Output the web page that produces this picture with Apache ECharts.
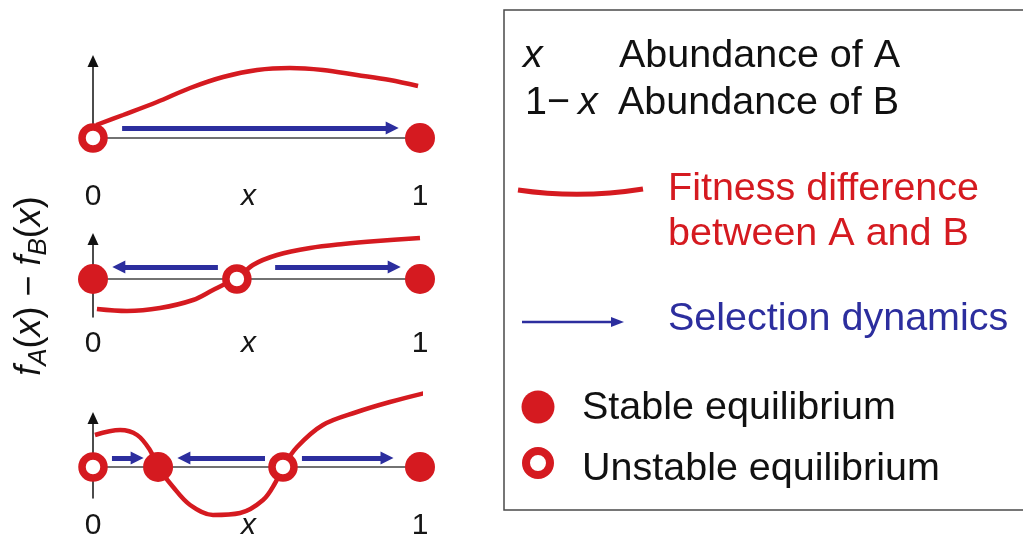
<!DOCTYPE html>
<html><head><meta charset="utf-8">
<script src="https://cdn.jsdelivr.net/npm/echarts@6/dist/echarts.min.js"></script>
<style>html,body{margin:0;padding:0;background:#fff}#c{width:1023px;height:541px}</style>
</head><body><div id="c"></div>
<script>
// ---- data ----
const xTickValues = [0, 0.5, 1];
const xTickLabels = ['0', 'x', '1'];

const curve1 = [[0.01,1.3],[0.092,2.3],[0.196,3.6],[0.297,5.0],[0.398,6.1],[0.502,6.8],[0.602,7.0],[0.703,6.8],[0.807,6.3],[0.908,5.8],[0.994,5.2]];
const stable1 = [[1,0]];
const unstable1 = [[0,0]];
const arrows1 = [[[0.089,1.0],[0.915,1.0]]];

const curve2 = [[0.012,-3.0],[0.104,-3.2],[0.205,-2.9],[0.306,-2.1],[0.367,-1.1],[0.41,-0.4],[0.44,0],[0.489,1.4],[0.563,2.4],[0.664,3.1],[0.765,3.5],[0.869,3.8],[1.0,4.1]];
const stable2 = [[0,0],[1,0]];
const unstable2 = [[0.44,0]];
const arrows2 = [[[0.382,1.2],[0.079,1.2]], [[0.557,1.2],[0.921,1.2]]];

const curve3 = [[0.006,3.2],[0.083,3.7],[0.135,3.2],[0.174,1.7],[0.199,0],[0.245,-2.0],[0.297,-3.8],[0.367,-4.8],[0.45,-4.6],[0.52,-3.3],[0.557,-1.6],[0.581,0],[0.624,2.0],[0.703,4.2],[0.807,5.5],[0.908,6.5],[1.015,7.4]];
const stable3 = [[0.199,0],[1,0]];
const unstable3 = [[0,0],[0.581,0]];
const arrows3 = [[[0.058,0.9],[0.135,0.9]], [[0.526,0.9],[0.278,0.9]], [[0.639,0.9],[0.899,0.9]]];

const legendLines = ['Abundance of A', 'Abundance of B', 'Fitness difference', 'between A and B', 'Selection dynamics', 'Stable equilibrium', 'Unstable equilibrium'];

// ---- styles ----
const RED = '#d51a20';
const BLUE = '#2c2e9e';
const FONT = '"Liberation Sans", Arial, Helvetica, sans-serif';
const LF = '39.5px ';

const panels = [
  {curve: curve1, stable: stable1, unstable: unstable1, arrows: arrows1, top: 61, height: 77, min: 0, max: 7.7, margin: 44},
  {curve: curve2, stable: stable2, unstable: unstable2, arrows: arrows2, top: 239, height: 78, min: -3.8, max: 4.0, margin: 12},
  {curve: curve3, stable: stable3, unstable: unstable3, arrows: arrows3, top: 418, height: 80, min: -3.1, max: 4.9, margin: 13}
];

const grid = [], xAxis = [], yAxis = [], series = [];
panels.forEach((p, i) => {
  grid.push({left: 93, width: 327, top: p.top, height: p.height, outerBoundsMode: 'none', containLabel: false});
  xAxis.push({
    type: 'value', gridIndex: i, min: 0, max: 1, interval: 0.5,
    splitLine: {show: false}, axisTick: {show: false},
    axisLine: {show: true, onZero: true, lineStyle: {color: '#444', width: 1.5}},
    axisLabel: {
      show: true, margin: p.margin, fontSize: 30, color: '#151515', fontFamily: FONT,
      showMinLabel: true, showMaxLabel: true, hideOverlap: false,
      formatter: v => { const k = xTickValues.indexOf(v); const t = k < 0 ? '' : xTickLabels[k]; return t === 'x' ? '{i|x}' : t; },
      rich: {i: {fontStyle: 'italic', fontSize: 30, fontFamily: FONT, color: '#151515', padding: [0, 16, 0, 0]}}
    }
  });
  yAxis.push({
    type: 'value', gridIndex: i, min: p.min, max: p.max,
    splitLine: {show: false}, axisTick: {show: false}, axisLabel: {show: false},
    axisLine: {show: true, onZero: false, symbol: ['none', 'triangle'], symbolSize: [11, 12], lineStyle: {color: '#111', width: 1.5}}
  });
  series.push({
    type: 'line', xAxisIndex: i, yAxisIndex: i, data: p.curve, smooth: 0.35, showSymbol: false, clip: false,
    lineStyle: {color: RED, width: 4.5}, z: 2, silent: true
  });
  series.push({
    type: 'lines', coordinateSystem: 'cartesian2d', xAxisIndex: i, yAxisIndex: i,
    data: p.arrows.map(c => ({coords: c})),
    symbol: ['none', 'triangle'], symbolSize: 13,
    lineStyle: {color: BLUE, width: 5, opacity: 1}, z: 3, silent: true
  });
  series.push({
    type: 'scatter', xAxisIndex: i, yAxisIndex: i, data: p.stable, symbol: 'circle', symbolSize: 30,
    itemStyle: {color: RED, opacity: 1}, z: 5, clip: false, silent: true
  });
  series.push({
    type: 'scatter', xAxisIndex: i, yAxisIndex: i, data: p.unstable, symbol: 'circle', symbolSize: 22,
    itemStyle: {color: '#fff', borderColor: RED, borderWidth: 7.5, opacity: 1}, z: 5, clip: false, silent: true
  });
});

function txt(x, baseline, text, color, italic) {
  return {
    type: 'text', x: x, y: baseline - 14,
    style: {text: text, fill: color, font: (italic ? 'italic ' : '') + LF + FONT, align: 'left', verticalAlign: 'middle'}
  };
}

const graphic = [
  {type: 'rect', shape: {x: 504, y: 10, width: 560, height: 500}, style: {fill: 'none', stroke: '#4a4a4a', lineWidth: 1.5}},
  txt(523, 70, 'x', '#111', true),
  txt(619, 70, legendLines[0], '#111'),
  txt(525, 117, '1\u2212', '#111'),
  txt(578, 117, 'x', '#111', true),
  txt(618, 117, legendLines[1], '#111'),
  {type: 'bezierCurve', shape: {x1: 518, y1: 190, x2: 643, y2: 189, cpx1: 580, cpy1: 199}, style: {stroke: RED, lineWidth: 5, fill: 'none'}},
  txt(668, 203, legendLines[2], RED),
  txt(668, 248, legendLines[3], RED),
  {type: 'line', shape: {x1: 522, y1: 322, x2: 614, y2: 322}, style: {stroke: BLUE, lineWidth: 2.5}},
  {type: 'polygon', shape: {points: [[611, 317], [624, 322], [611, 327]]}, style: {fill: BLUE}},
  txt(668, 333, legendLines[4], BLUE),
  {type: 'circle', shape: {cx: 538, cy: 407, r: 16.5}, style: {fill: RED}},
  txt(582, 422, legendLines[5], '#111'),
  {type: 'circle', shape: {cx: 538, cy: 463, r: 12}, style: {fill: '#fff', stroke: RED, lineWidth: 8}},
  txt(582, 483, legendLines[6], '#111'),
  {
    type: 'text', x: 30, y: 286, rotation: Math.PI / 2,
    style: {
      text: '{f|f}{s|A}{n|(}{i|x}{n|) \u2212 }{f|f}{s|B}{n|(}{i|x}{n|)}',
      align: 'center', verticalAlign: 'middle',
      rich: {
        f: {fontStyle: 'italic', fontSize: 36, fontFamily: FONT, fill: '#111', lineHeight: 44},
        i: {fontStyle: 'italic', fontSize: 36, fontFamily: FONT, fill: '#111', lineHeight: 44},
        n: {fontSize: 36, fontFamily: FONT, fill: '#111', lineHeight: 44},
        s: {fontStyle: 'italic', fontSize: 26, fontFamily: FONT, fill: '#111', lineHeight: 20, verticalAlign: 'bottom'}
      }
    }
  }
];

const chart = echarts.init(document.getElementById('c'), null, {renderer: 'canvas'});
chart.setOption({animation: false, backgroundColor: '#fff', grid, xAxis, yAxis, series, graphic});
</script>
</body></html>
